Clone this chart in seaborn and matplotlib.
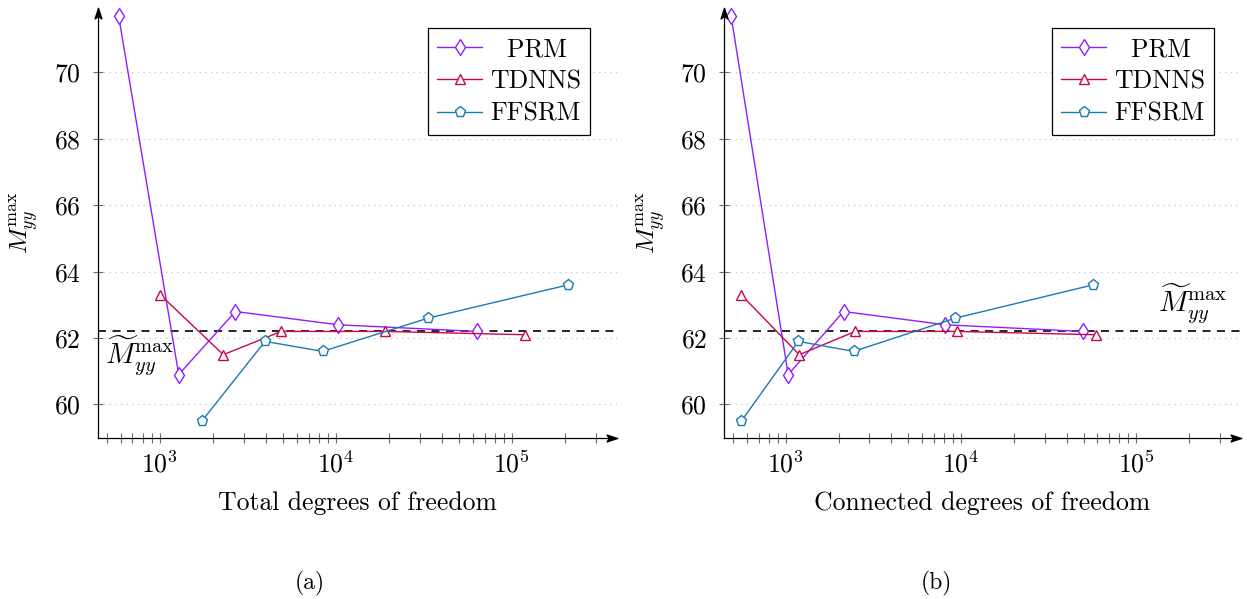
import numpy as np
import pandas as pd
import matplotlib
matplotlib.use("Agg")
import matplotlib.pyplot as plt
import seaborn as sns
from matplotlib.ticker import LogLocator, NullFormatter
from matplotlib.path import Path

# ---------------- data ----------------
methods = ["PRM", "TDNNS", "FFSRM"]
legend_labels = ["  PRM", "TDNNS", "FFSRM"]

# x values, panel (a): total degrees of freedom
prm_total_dof = [584, 1282, 2688, 10320, 63400]
tdnns_total_dof = [1009, 2296, 4898, 18970, 119000]
ffsrm_total_dof = [1734, 3962, 8410, 33400, 208000]

# x values, panel (b): connected degrees of freedom
prm_conn_dof = [487, 1031, 2133, 8110, 49400]
tdnns_conn_dof = [557, 1193, 2489, 9500, 58500]
ffsrm_conn_dof = [557, 1178, 2437, 9270, 56400]

# y values (M_yy^max), same for both panels
m_prm = [71.7, 60.9, 62.8, 62.4, 62.2]
m_tdnns = [63.3, 61.5, 62.2, 62.2, 62.1]
m_ffsrm = [59.5, 61.9, 61.6, 62.6, 63.6]
m_ref = 62.2

y_ticks = [60, 62, 64, 66, 68, 70]
x_labels = ["Total degrees of freedom", "Connected degrees of freedom"]
captions = ["(a)", "(b)"]

colors = {"PRM": "#8f1fff", "TDNNS": "#c4094c", "FFSRM": "#1a7ab2"}
markers = {"PRM": "d", "TDNNS": "^", "FFSRM": "p"}
msizes = {"PRM": 8.5, "TDNNS": 7.5, "FFSRM": 8.0}

panels = [
    {"PRM": prm_total_dof, "TDNNS": tdnns_total_dof, "FFSRM": ffsrm_total_dof},
    {"PRM": prm_conn_dof, "TDNNS": tdnns_conn_dof, "FFSRM": ffsrm_conn_dof},
]
yvals = {"PRM": m_prm, "TDNNS": m_tdnns, "FFSRM": m_ffsrm}

# ---------------- style ----------------
sns.set_theme(style="white")
FS = 18.5
plt.rcParams.update({
    "font.family": ["cmr10", "DejaVu Serif"],
    "mathtext.fontset": "cm",
    "axes.formatter.use_mathtext": True,
    "font.size": FS,
    "xtick.labelsize": FS,
    "ytick.labelsize": FS,
    "axes.labelsize": FS,
    "legend.fontsize": FS,
    "xtick.bottom": True,
    "ytick.left": True,
    "text.color": "black",
    "axes.labelcolor": "black",
    "xtick.labelcolor": "black",
    "ytick.labelcolor": "black",
})

# stealth-like arrow heads, tip at the marker origin
codes = [Path.MOVETO, Path.LINETO, Path.LINETO, Path.LINETO, Path.CLOSEPOLY]
stealth_right = Path([(0, 0), (-1.9, 0.62), (-1.45, 0), (-1.9, -0.62), (0, 0)], codes)
stealth_up = Path([(0, 0), (0.62, -1.9), (0, -1.45), (-0.62, -1.9), (0, 0)], codes)

W, H = 1247, 599
fig = plt.figure(figsize=(W / 100, H / 100), dpi=100)

ax_rects = [
    [97.6 / W, 1 - 437.7 / H, 519.4 / W, 429.4 / H],
    [724.0 / W, 1 - 437.7 / H, 517.0 / W, 429.4 / H],
]
annot_pos = [(0.0816, 0.19), (0.907, 0.31)]
caption_x = [310 / W, 936 / W]

for i, rect in enumerate(ax_rects):
    ax = fig.add_axes(rect)
    ax.set_xscale("log")
    rows = []
    for m in methods:
        for xv, yv in zip(panels[i][m], yvals[m]):
            rows.append({"method": m, "dof": xv, "M": yv})
    df = pd.DataFrame(rows)

    ax.axhline(m_ref, color="black", lw=1.2, ls=(0, (4.8, 3.9)), zorder=1)
    for m, lab in zip(methods, legend_labels):
        sub = df[df["method"] == m]
        sns.lineplot(data=sub, x="dof", y="M", ax=ax, color=colors[m],
                     marker=markers[m], markersize=msizes[m],
                     markerfacecolor="white", markeredgecolor=colors[m],
                     markeredgewidth=1.0, linewidth=1.0, errorbar=None,
                     sort=False, label=lab, zorder=3, legend=False)

    ax.set_xlim(10 ** 2.647, 10 ** 5.597)
    ax.set_ylim(59.0, 71.93)
    ax.set_yticks(y_ticks)
    ax.xaxis.set_major_locator(LogLocator(base=10, numticks=10))
    ax.xaxis.set_minor_locator(LogLocator(base=10, subs=np.arange(2, 10), numticks=20))
    ax.xaxis.set_minor_formatter(NullFormatter())

    for s in ["top", "right"]:
        ax.spines[s].set_visible(False)
    for s in ["left", "bottom"]:
        ax.spines[s].set_color("black")
        ax.spines[s].set_linewidth(0.9)
    ax.tick_params(axis="both", which="both", direction="inout", length=6.5,
                   width=0.8, color="#6a6a6a", bottom=True, left=True,
                   labelcolor="black")
    ax.tick_params(axis="x", which="major", pad=6)
    ax.tick_params(axis="y", which="major", pad=9)

    ax.yaxis.grid(True, color="#c4c4c4", ls=(0, (1, 3.5)), lw=0.9)
    ax.xaxis.grid(False)
    ax.set_axisbelow(True)

    # axis arrows
    ax.plot(1, 0, marker=stealth_right, color="black", markersize=15,
            transform=ax.transAxes, clip_on=False, zorder=5)
    ax.plot(0, 1, marker=stealth_up, color="black", markersize=15,
            transform=ax.transAxes, clip_on=False, zorder=5)

    ax.set_xlabel(x_labels[i], labelpad=10)
    ax.set_ylabel(r"$M_{yy}^{\max}$", labelpad=9)

    ax.text(annot_pos[i][0], annot_pos[i][1], r"$\widetilde{M}_{yy}^{\max}$",
            transform=ax.transAxes, ha="center", va="center", fontsize=21)

    leg = ax.legend(loc="upper right", bbox_to_anchor=(0.948, 0.953),
                    borderaxespad=0, frameon=True, fancybox=False,
                    edgecolor="black", framealpha=1, handlelength=1.75,
                    handletextpad=0.3, labelspacing=0.33, borderpad=0.35)
    leg.get_frame().set_linewidth(0.9)

    fig.text(caption_x[i], 1 - 583 / H, captions[i], ha="center", va="center",
             fontsize=17)

fig.savefig("out.png", dpi=100)
